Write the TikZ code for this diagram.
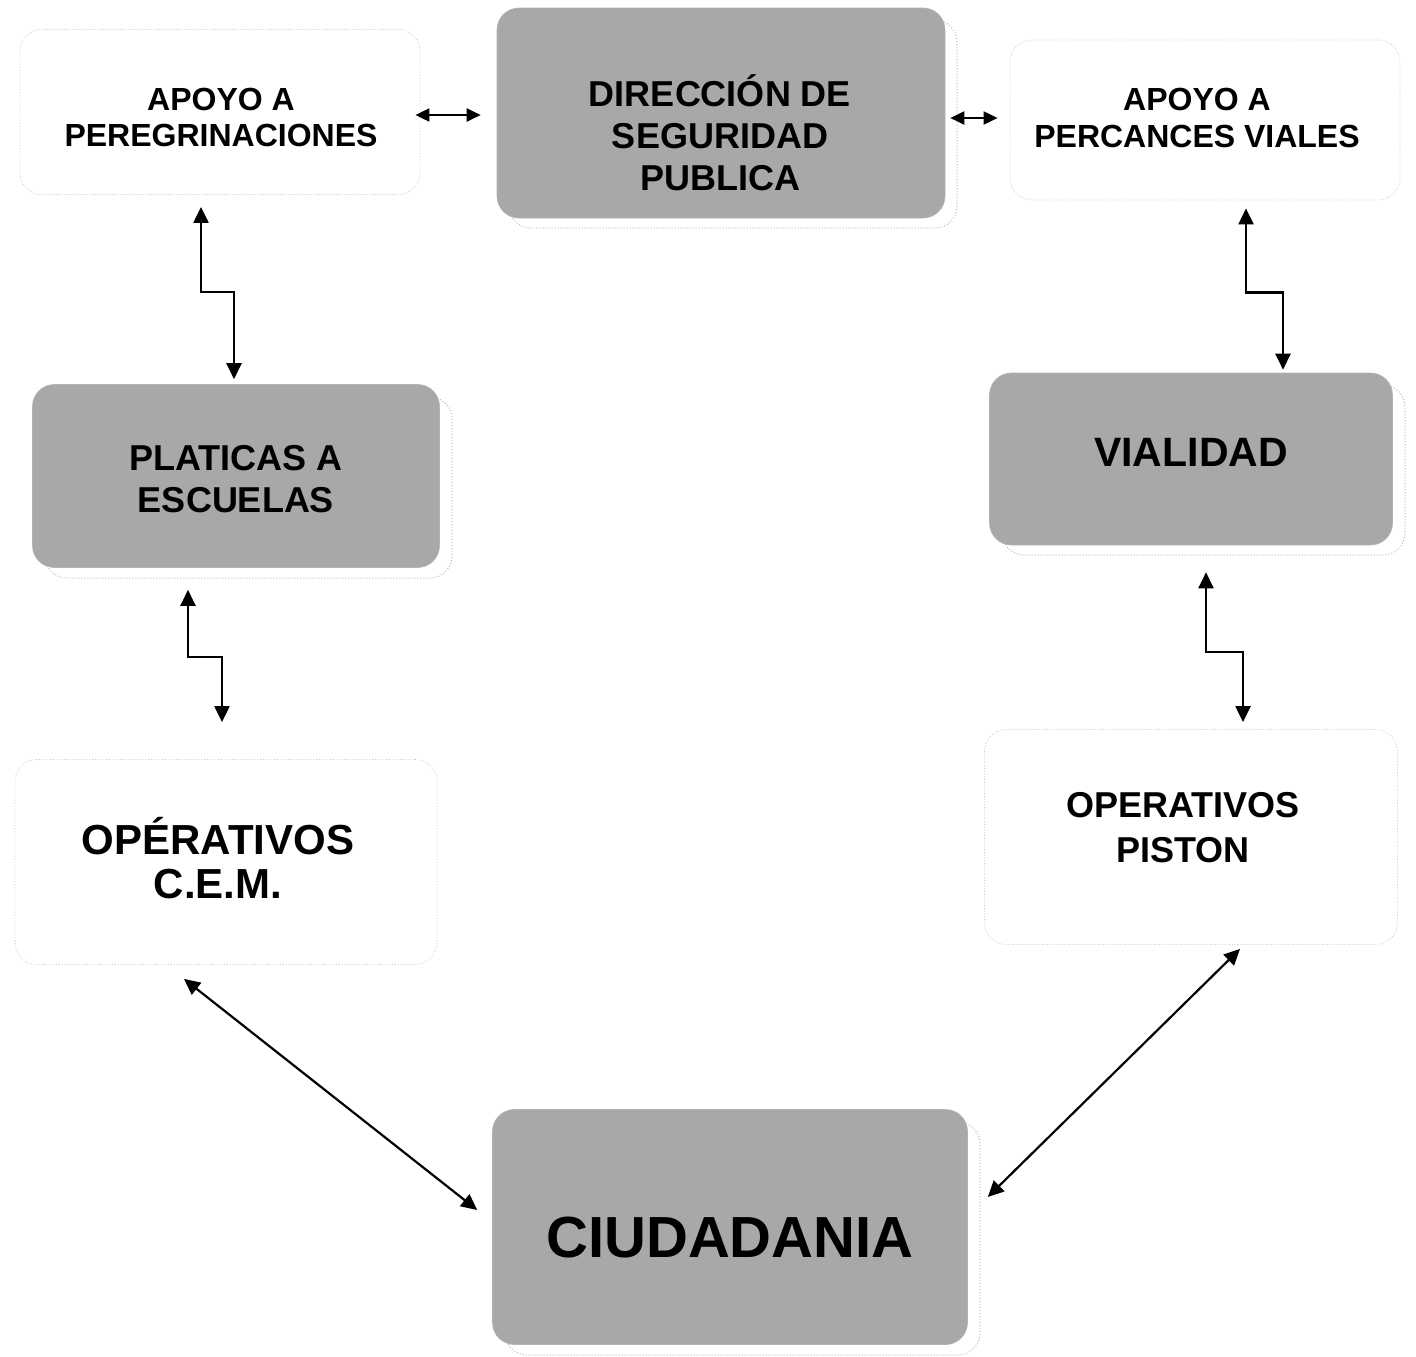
\documentclass[tikz,border=0pt]{standalone}
\usepackage{fontspec}
\setmainfont{Liberation Sans}
\usetikzlibrary{arrows.meta,calc}
\begin{document}
\begin{tikzpicture}[x=1pt,y=-1pt,
  graybox/.style={rounded corners=22pt, fill=black!34, draw=black!30, line width=0.6pt, inner sep=0pt},
  whitebox/.style={rounded corners=22pt, fill=white, draw=black!22, dotted, line width=0.8pt, inner sep=0pt},
  label/.style={align=center, inner sep=0pt, font=\bfseries},
  shadowline/.style={draw=black!28, dotted, line width=1pt},
  dbl/.style={{Triangle[length=16pt,width=15pt]}-{Triangle[length=16pt,width=15pt]}, line width=2.2pt},
  sdbl/.style={{Triangle[length=14pt,width=13pt]}-{Triangle[length=14pt,width=13pt]}, line width=2pt}]
\useasboundingbox (0,0) rectangle (1416,1357);
\fill[white] (0,0) rectangle (1416,1357);

% shadows of gray boxes
\draw[shadowline, rounded corners=22pt] (509,20) rectangle (957,228);
\draw[shadowline, rounded corners=22pt] (45,397) rectangle (452,578);
\draw[shadowline, rounded corners=22pt] (1002,385) rectangle (1405,555);
\draw[shadowline, rounded corners=22pt] (505,1122) rectangle (980,1355);

% boxes
\node[whitebox, minimum width=400pt, minimum height=165pt] (apoyoP) at (220,112) {};
\node[graybox, minimum width=448pt, minimum height=210pt] (dir) at (721,113) {};
\node[whitebox, minimum width=390pt, minimum height=160pt] (apoyoV) at (1205,120) {};
\node[graybox, minimum width=407pt, minimum height=183pt] (plat) at (236,476) {};
\node[graybox, minimum width=403pt, minimum height=172pt] (vial) at (1191,459) {};
\node[whitebox, minimum width=422pt, minimum height=205pt] (cem) at (226,862) {};
\node[whitebox, minimum width=413pt, minimum height=215pt] (piston) at (1191,837) {};
\node[graybox, minimum width=475pt, minimum height=235pt] (ciud) at (730,1227) {};

% texts
\node[label, font=\bfseries\fontsize{32}{36}\selectfont] (apoyoPT) at (221,117) {APOYO A\\PEREGRINACIONES};
\node[label, font=\bfseries\fontsize{36}{42}\selectfont] (dirT) at (720,133) {DIRECCIÓN DE\\SEGURIDAD\\PUBLICA};
\node[label, font=\bfseries\fontsize{32}{37}\selectfont] (apoyoVT) at (1197,118) {APOYO A\\PERCANCES VIALES};
\node[label, font=\bfseries\fontsize{36}{42}\selectfont] (platT) at (236,479) {PLATICAS A\\ESCUELAS};
\node[label, font=\bfseries\fontsize{41}{46}\selectfont] (vialT) at (1191,452) {VIALIDAD};
\node[label, font=\bfseries\fontsize{42}{44}\selectfont] (cemT) at (218,858) {OPÉRATIVOS\\C.E.M.};
\node[label, font=\bfseries\fontsize{36}{45}\selectfont] (pistonT) at (1183,828) {OPERATIVOS\\PISTON};
\node[label, font=\bfseries\fontsize{58}{64}\selectfont] (ciudT) at (730,1238) {CIUDADANIA};

% connectors
\draw[sdbl] ($(apoyoP.east)+(-5,3)$) -- ($(dir.west)+(-16,2)$);
\draw[sdbl] ($(dir.east)+(5,5)$) -- ($(apoyoV.west)+(-12,-2)$);

\draw[dbl] ($(apoyoP.south)+(-19,12)$) -- ++(0,85) -| ($(plat.north)+(-2,-5)$);
\draw[dbl] ($(plat.south)+(-48,22)$) -- ++(0,67) -| ($(cem.north)+(-4,-37)$);
\draw[dbl] ($(apoyoV.south)+(41,8)$) -- ++(0,84) -| ($(vial.north)+(92,-3)$);
\draw[dbl] ($(vial.south)+(15,27)$) -- ++(0,80) -| ($(piston.north)+(52,-7)$);

\draw[dbl] ($(cem.south)+(-42,14)$) -- ($(ciud.west)+(-15,-17)$);
\draw[dbl] ($(piston.south)+(49,4)$) -- ($(ciud.east)+(20,-30)$);
\end{tikzpicture}
\end{document}
